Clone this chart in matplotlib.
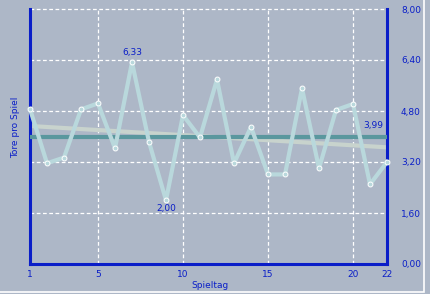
import matplotlib
matplotlib.use("Agg")
import matplotlib.pyplot as plt
from matplotlib.patches import Rectangle

spieltag = list(range(1, 23))
tore = [4.86, 3.16, 3.34, 4.85, 5.04, 3.63, 6.33, 3.83, 2.00, 4.67, 3.97,
        5.79, 3.16, 4.30, 2.81, 2.81, 5.51, 3.00, 4.83, 5.02, 2.50, 3.20]
schnitt = 3.99
trend_x = [1, 22]
trend_y = [4.33, 3.66]
xticks = [1, 5, 10, 15, 20, 22]
yticks = [0.0, 1.6, 3.2, 4.8, 6.4, 8.0]

bg = "#adb7c7"
blue = "#0a1ec8"
W, H = 430, 294
fig = plt.figure(figsize=(W / 100, H / 100), dpi=100, facecolor=bg)
ax = fig.add_axes([30 / W, 1 - 264 / H, (387 - 30) / W, (264 - 9) / H])
ax.set_facecolor(bg)

fig.patches.append(Rectangle((-0.01, 2.5 / H), 428 / W, 1.1, transform=fig.transFigure,
                             fill=False, edgecolor="white", lw=1.2, zorder=0))

ax.set_xlim(1, 22)
ax.set_ylim(0, 8)

for x in [5, 10, 15, 20]:
    ax.axvline(x, color="white", lw=0.9, ls=(0, (3, 2)), zorder=1)
for y in yticks[1:]:
    ax.axhline(y, color="white", lw=0.9, ls=(0, (3, 2)), zorder=1, clip_on=False)

ax.plot(trend_x, trend_y, color="#c8d3cd", lw=3, zorder=2, solid_capstyle="butt")
ax.axhline(schnitt, color="#5a979e", lw=3, zorder=3)
ax.plot(spieltag, tore, color="#b9d8dc", lw=3, zorder=4,
        marker="o", ms=3.5, mfc="#b9d8dc", mec="white", mew=0.7, clip_on=False)

fs = 6.5
ax.annotate("6,33", (7, 6.33), xytext=(0, 4), textcoords="offset points",
            ha="center", va="bottom", color=blue, fontsize=fs)
ax.annotate("2,00", (9, 2.00), xytext=(0, -3), textcoords="offset points",
            ha="center", va="top", color=blue, fontsize=fs)
ax.annotate("3,99", (21.2, schnitt), xytext=(0, 5), textcoords="offset points",
            ha="center", va="bottom", color=blue, fontsize=fs)

for s in ["left", "right", "bottom"]:
    ax.spines[s].set_color(blue)
    ax.spines[s].set_linewidth(2.2)
ax.spines["top"].set_visible(False)

ax.set_xticks(xticks)
ax.set_xticklabels([str(t) for t in xticks])
ax.set_yticks(yticks)
ax.set_yticklabels([f"{v:.2f}".replace(".", ",") for v in yticks])
ax.yaxis.tick_right()
ax.tick_params(axis="both", length=0, colors=blue, labelsize=fs)
ax.tick_params(axis="x", pad=4)
ax.tick_params(axis="y", pad=10)

fig.text(210 / W, 1 - 286 / H, "Spieltag", ha="center", va="center", color=blue, fontsize=fs)
fig.text(16 / W, 1 - 127 / H, "Tore pro Spiel", ha="center", va="center",
         rotation=90, color=blue, fontsize=fs)

fig.savefig("out.png", dpi=100, facecolor=bg)
